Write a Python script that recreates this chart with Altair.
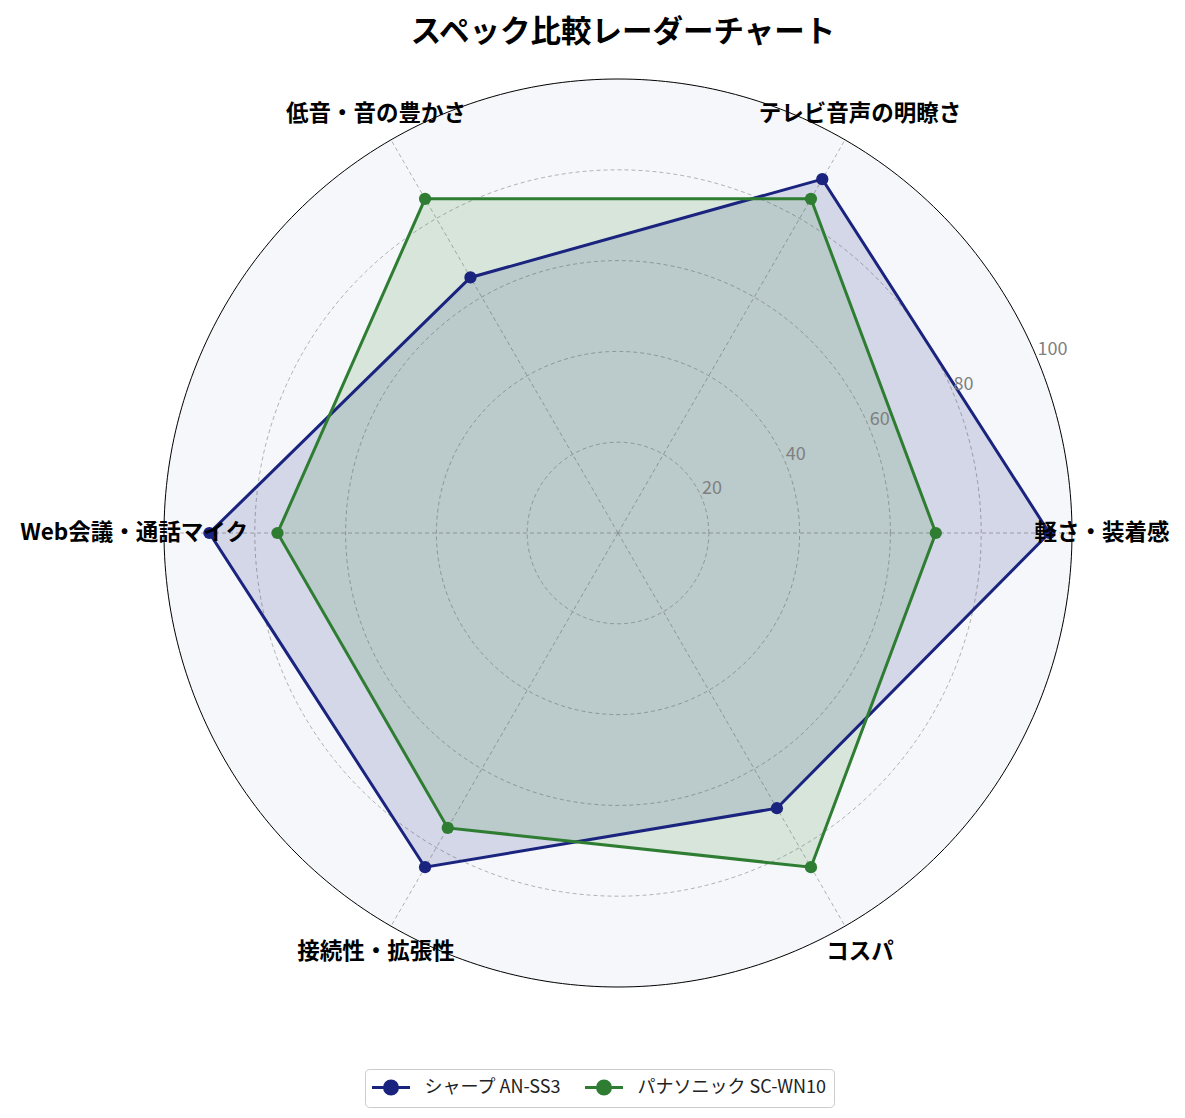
import altair as alt
import pandas as pd

categories = ["軽さ・装着感", "テレビ音声の明瞭さ", "低音・音の豊かさ",
              "Web会議・通話マイク", "接続性・拡張性", "コスパ"]
series_names = ["シャープ AN-SS3", "パナソニック SC-WN10"]
sharp_values = [95, 90, 65, 90, 85, 70]
panasonic_values = [70, 85, 85, 75, 75, 85]
r_ticks = [20, 40, 60, 80, 100]
title_text = "スペック比較レーダーチャート"

NAVY = "#1a237e"
GREEN = "#2e7d32"
BG = "#f5f7fa"
GRID = "#a0a0a0"
FONT = "Noto Sans CJK JP"

W, H = 1169, 1100
CX, CY = 610, 525
K = 4.54
x_dom = [-CX / K, (W - CX) / K]
y_dom = [-(H - CY) / K, CY / K]

n = len(categories)
rows = []
for name, vals in zip(series_names, [sharp_values, panasonic_values]):
    for i in range(n + 1):
        j = i % n
        rows.append({"series": name, "cat": categories[j], "idx": i, "value": vals[j]})
df = pd.DataFrame(rows)

ANG = f"datum.idx * 2 * PI / {n}"
X = alt.X("x:Q", scale=alt.Scale(domain=x_dom, nice=False, zero=False), axis=None)
Y = alt.Y("y:Q", scale=alt.Scale(domain=y_dom, nice=False, zero=False), axis=None)


def circle_calc(ch, rexpr):
    return ch.transform_calculate(
        x=f"{rexpr} * cos(datum.deg * PI / 180)",
        y=f"{rexpr} * sin(datum.deg * PI / 180)",
    )


rmax = r_ticks[-1]

bg = circle_calc(alt.Chart(alt.sequence(0, 361, 1, as_="deg")), str(rmax)).mark_line(
    fill=BG, stroke=BG, strokeWidth=0.5
).encode(x=X, y=Y, order="deg:Q")

grid = (
    alt.Chart(alt.sequence(0, 361, 1, as_="deg"))
    .transform_calculate(rs=str(r_ticks[:-1]))
    .transform_flatten(["rs"], as_=["r"])
)
grid = circle_calc(grid, "datum.r").mark_line(
    stroke=GRID, strokeWidth=0.8, strokeDash=[4, 3]
).encode(x=X, y=Y, detail="r:N", order="deg:Q")

spoke_df = pd.DataFrame({"idx": list(range(n))})
spokes = alt.Chart(spoke_df).transform_calculate(
    x="0", y="0",
    x2=f"{rmax} * cos({ANG})", y2=f"{rmax} * sin({ANG})",
).mark_rule(stroke=GRID, strokeWidth=0.8, strokeDash=[4, 3]).encode(
    x=X, y=Y, x2="x2:Q", y2="y2:Q"
)

outer = circle_calc(alt.Chart(alt.sequence(0, 361, 1, as_="deg")), str(rmax)).mark_line(
    stroke="black", strokeWidth=1
).encode(x=X, y=Y, order="deg:Q")

base = alt.Chart(df).transform_calculate(
    x=f"datum.value * cos({ANG})", y=f"datum.value * sin({ANG})"
)

fills = []
for name, col in zip(series_names, [NAVY, GREEN]):
    fills.append(
        base.transform_filter(alt.datum.series == name)
        .mark_line(fill=col, fillOpacity=0.15, strokeOpacity=0)
        .encode(x=X, y=Y, order="idx:Q")
    )

color = alt.Color(
    "series:N",
    scale=alt.Scale(domain=series_names, range=[NAVY, GREEN]),
    legend=alt.Legend(
        title=None, orient="none", legendX=357, legendY=1061,
        direction="horizontal",
        symbolType="M-1.9,0H1.9M-0.65,0A0.65,0.65,0,1,1,0.65,0A0.65,0.65,0,1,1,-0.65,0Z",
        symbolSize=400, symbolStrokeWidth=3, symbolOffset=7.5,
        labelFont=FONT, labelFontSize=18, labelColor="#222222",
        labelOffset=22, labelLimit=0, columnPadding=17, padding=7,
        strokeColor="#cccccc", cornerRadius=4, fillColor="white",
    ),
)

lines = base.mark_line(strokeWidth=3).encode(x=X, y=Y, color=color, order="idx:Q")
points = base.transform_filter(f"datum.idx < {n}").mark_point(
    filled=True, size=150, opacity=1
).encode(x=X, y=Y, color=color)

cat_df = pd.DataFrame({"cat": categories, "idx": list(range(n))})
cat_labels = alt.Chart(cat_df).transform_calculate(
    x=f"106.6 * cos({ANG})", y=f"106.6 * sin({ANG})"
).mark_text(
    font=FONT, fontSize=22.5, fontWeight="bold", color="black",
    align="center", baseline="middle"
).encode(x=X, y=Y, text="cat:N")

rt_df = pd.DataFrame({"r": r_ticks})
r_labels = alt.Chart(rt_df).transform_calculate(
    x="datum.r * cos(PI / 8)", y="datum.r * sin(PI / 8)"
).mark_text(
    font=FONT, fontSize=18, color="#808080", align="left", baseline="bottom"
).encode(x=X, y=Y, text="r:Q")

title = alt.Chart(pd.DataFrame({"t": [title_text]})).mark_text(
    font=FONT, fontSize=30.5, fontWeight="bold", color="black",
    align="center", baseline="middle"
).encode(x=alt.value(615), y=alt.value(25), text="t:N")

chart = alt.layer(
    bg, grid, spokes, outer, *fills, lines, points, cat_labels, r_labels, title
).properties(
    width=W, height=H, padding=0,
    autosize=alt.AutoSizeParams(type="none"),
).configure_view(stroke=None)

chart.save("out.html", embed_options={"renderer": "svg", "actions": False})
